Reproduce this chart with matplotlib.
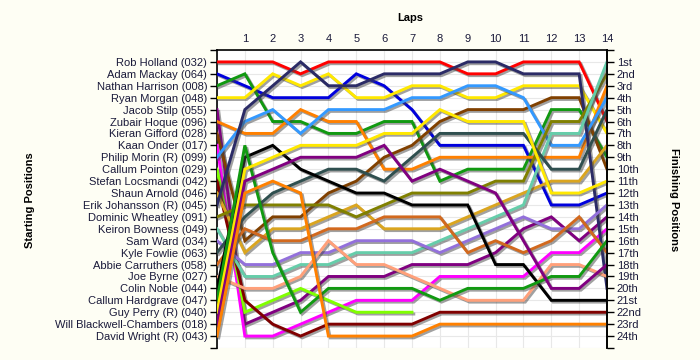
import matplotlib

matplotlib.use("Agg")
import matplotlib.pyplot as plt
import matplotlib.patheffects as pe
import numpy as np

# drivers in starting order (grid position = index + 1)
drivers = [
    "Rob Holland (032)", "Adam Mackay (064)", "Nathan Harrison (008)", "Ryan Morgan (048)",
    "Jacob Stilp (055)", "Zubair Hoque (096)", "Kieran Gifford (028)", "Kaan Onder (017)",
    "Philip Morin (R) (099)", "Callum Pointon (029)", "Stefan Locsmandi (042)", "Shaun Arnold (046)",
    "Erik Johansson (R) (045)", "Dominic Wheatley (091)", "Keiron Bowness (049)", "Sam Ward (034)",
    "Kyle Fowlie (063)", "Abbie Carruthers (058)", "Joe Byrne (027)", "Colin Noble (044)",
    "Callum Hardgrave (047)", "Guy Perry (R) (040)", "Will Blackwell-Chambers (018)", "David Wright (R) (043)",
]

# position at grid (lap 0) then after each of the 14 laps; None = retired
positions = [
    [1, 1, 1, 2, 1, 1, 1, 1, 1, 2, 2, 1, 1, 1, 6],
    [2, 3, 4, 4, 4, 2, 3, 5, 8, 8, 8, 8, 13, 13, 12],
    [3, 2, 6, 6, 7, 7, 6, 6, 11, 10, 10, 10, 5, 5, 9],
    [4, 4, 2, 3, 2, 4, 4, 3, 3, 4, 4, 3, 3, 3, 7],
    [5, 23, 22, 21, 19, 19, 19, 18, 18, 18, 17, 15, 14, 16, 14],
    [6, 7, 7, 5, 6, 6, 10, 10, 9, 9, 9, 9, 9, 9, 3],
    [7, 16, 14, 14, 12, 11, 9, 8, 6, 5, 5, 5, 4, 4, 10],
    [8, 24, 24, 23, 22, 21, 21, 21, 19, 19, 19, 19, 17, 17, 15],
    [9, 6, 5, 7, 5, 5, 5, 4, 4, 3, 3, 4, 8, 8, 4],
    [10, 22, 21, 20, 21, 22, 22, 22, None, None, None, None, None, None, None],
    [11, 21, 23, 24, 23, 23, 23, 23, 22, 22, 22, 22, 22, 22, 22],
    [12, 17, 15, 15, 14, 13, 15, 15, 15, 14, 13, 12, 11, 11, 8],
    [13, 5, 3, 1, 3, 3, 2, 2, 2, 1, 1, 2, 2, 2, 20],
    [14, 13, 13, 13, 13, 14, 13, 12, 12, 12, 11, 11, 6, 6, 2],
    [15, 19, 19, 18, 18, 17, 17, 17, 16, 15, 14, 13, 7, 7, 1],
    [16, 18, 18, 17, 17, 16, 16, 16, 17, 16, 15, 14, 15, 15, 13],
    [17, 14, 12, 11, 10, 10, 11, 9, 7, 7, 7, 7, 10, 10, 5],
    [18, 15, 16, 16, 15, 15, 14, 14, 14, 17, 16, 17, 16, 14, 17],
    [19, 20, 20, 19, 16, 18, 18, 19, 20, 21, 21, 21, 18, 18, 19],
    [20, 9, 8, 10, 11, 12, 12, 13, 13, 13, 18, 18, 21, 21, 21],
    [21, 8, 17, 22, 20, 20, 20, 20, 21, 20, 20, 20, 19, 19, 16],
    [22, 10, 9, 8, 8, 8, 7, 7, 5, 6, 6, 6, 12, 12, 11],
    [23, 11, 10, 9, 9, 9, 8, 11, 10, 11, 12, 16, 20, 20, 18],
    [24, 12, 11, 12, 24, 24, 24, 24, 23, 23, 23, 23, 23, 23, 23],
]

laps = list(range(0, 15))
finish_labels = [
    "1st", "2nd", "3rd", "4th", "5th", "6th", "7th", "8th", "9th", "10th", "11th", "12th",
    "13th", "14th", "15th", "16th", "17th", "18th", "19th", "20th", "21st", "22nd", "23rd", "24th",
]

colors = [
    "#FF0000", "#0000DD", "#119911", "#FFE800", "#800080", "#FF8000", "#804000", "#FF00FF",
    "#3399FF", "#80FF00", "#800000", "#DAA520", "#2B2B66", "#808000", "#66CDAA", "#9370DB",
    "#2F4F4F", "#D2691E", "#FFA07A", "#000000", "#119911", "#FFE800", "#800080", "#FF8000",
]

text_color = "#1A1A3A"
bg = "#FEFEF4"
fonts = ["Liberation Sans", "DejaVu Sans"]
plt.rcParams["font.family"] = fonts

fig = plt.figure(figsize=(7, 3.6), dpi=100, facecolor=bg)
ax = fig.add_axes([217 / 700, 12 / 360, 390 / 700, 298 / 360])
ax.set_facecolor("white")

shadow = [pe.SimpleLineShadow(offset=(1.3, -1.3), shadow_color="#444444", alpha=0.5), pe.Normal()]
for pos, col in zip(positions, colors):
    y = np.array([np.nan if p is None else p for p in pos], dtype=float)
    ax.plot(laps, y, color=col, linewidth=2.1, solid_joinstyle="miter", path_effects=shadow, zorder=3)

ax.set_xlim(0, 14)
ax.set_ylim(25, 0)

ax.xaxis.tick_top()
ax.set_xticks(laps)
ax.set_xticklabels([""] + [str(i) for i in laps[1:]])
ax.tick_params(axis="x", length=0, pad=4, labelsize=8, labelcolor=text_color)

yt = list(range(0, 26))
ax.set_yticks(yt)
ax.set_yticklabels([""] + drivers + [""])
ax.tick_params(axis="y", length=5, width=1, pad=2, labelsize=8, labelcolor=text_color)

ax.grid(True, color="#E8E8E8", linewidth=0.8, zorder=0)
ax.set_axisbelow(True)
for side in ("top", "left", "right"):
    ax.spines[side].set_color("black")
    ax.spines[side].set_linewidth(1.2)
ax.spines["bottom"].set_visible(False)

ax2 = ax.twinx()
ax2.set_ylim(25, 0)
ax2.set_yticks(yt)
ax2.set_yticklabels([""] + finish_labels + [""])
ax2.tick_params(axis="y", length=5, width=1, pad=2, labelsize=8, labelcolor=text_color)
for side in ("top", "left", "bottom"):
    ax2.spines[side].set_visible(False)
ax2.spines["right"].set_linewidth(1.2)

fig.text(410 / 700, 1 - 18 / 360, "Laps", ha="center", va="center", fontsize=8, fontweight="bold")
fig.text(30 / 700, 1 - 200 / 360, "Starting Positions", ha="center", va="center", rotation=90,
         fontsize=8, fontweight="bold")
fig.text(674 / 700, 1 - 200 / 360, "Finishing Positions", ha="center", va="center", rotation=270,
         fontsize=8, fontweight="bold")

fig.savefig("out.png", dpi=100, facecolor=bg)
